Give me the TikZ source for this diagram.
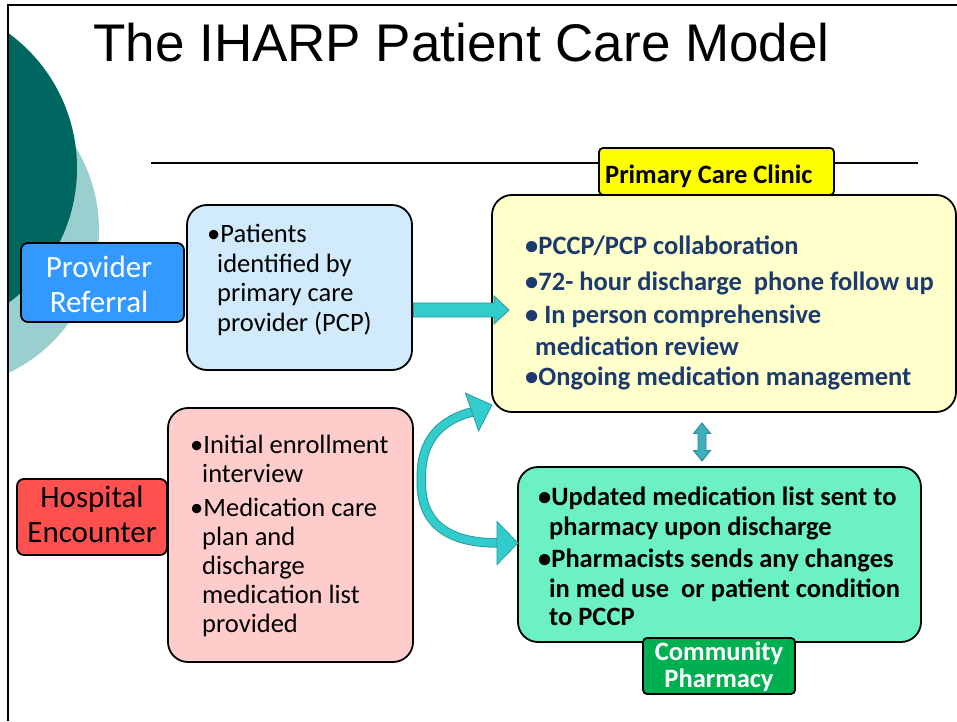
\documentclass[tikz,border=0pt]{standalone}
\usepackage{fontspec}
\setmainfont{Carlito}
\newfontfamily\titlefont{Liberation Sans}
\usetikzlibrary{calc}
\definecolor{darkteal}{HTML}{006660}
\definecolor{lightteal}{HTML}{9ACFCF}
\definecolor{pccyellow}{HTML}{FFFF00}
\definecolor{paleyellow}{HTML}{FFFFCC}
\definecolor{paleblue}{HTML}{D2EBFC}
\definecolor{refblue}{HTML}{3399FF}
\definecolor{hospred}{HTML}{FF5050}
\definecolor{palepink}{HTML}{FFCCCC}
\definecolor{mint}{HTML}{6CF0C6}
\definecolor{pharmgreen}{HTML}{00B050}
\definecolor{navytext}{HTML}{1C3A6E}
\definecolor{arrowfill}{HTML}{33CCCC}
\definecolor{arrowedge}{HTML}{2A9D9D}
\definecolor{dblfill}{HTML}{3DAFBE}
\definecolor{dbledge}{HTML}{2D8796}
\begin{document}
\begin{tikzpicture}[x=1pt,y=1pt,
  box/.style={draw=black, line width=1.8pt, rounded corners=#1, inner sep=0pt},
  box/.default=20pt,
  txt/.style={anchor=base west, inner sep=0pt, font=\fontsize{26.5}{30}\selectfont},
  btxt/.style={txt, font=\fontsize{26.5}{30}\selectfont\bfseries},
  ctxt/.style={anchor=base, inner sep=0pt, font=\fontsize{31}{35}\selectfont},
  bctxt/.style={anchor=base, inner sep=0pt, font=\fontsize{26.5}{30}\selectfont\bfseries},
  blockarrow/.style={fill=arrowfill, draw=arrowedge, line width=0.8pt, line join=miter}]
\useasboundingbox (0,0) rectangle (957,721);

% background circles
\begin{scope}
  \clip (8,0) rectangle (957,716);
  \fill[lightteal] (-59,491) circle[radius=158];
  \fill[darkteal] (-90,553) circle[radius=167];
\end{scope}

% slide frame
\draw[line width=2pt] (8,0) -- (8,716) -- (957,716);

% title and rule
\node[anchor=base, inner sep=0pt, font=\titlefont\fontsize{53}{60}\selectfont] (title) at (461.5,659) {The IHARP Patient Care Model};
\draw[line width=1.5pt] (151,558) -- (918,558);

% boxes
\node[box, fill=paleyellow, minimum width=464pt, minimum height=217pt] (yellow) at (724,417.5) {};
\node[box=4pt, fill=pccyellow, minimum width=235pt, minimum height=47pt] (pcc) at (716.5,549.5) {};
\node[box, fill=mint, minimum width=403pt, minimum height=175pt] (green) at (719.5,166.5) {};
\node[box=4pt, fill=pharmgreen, minimum width=152pt, minimum height=56pt] (pharm) at (719,55) {};
\node[box, fill=paleblue, minimum width=225pt, minimum height=165pt] (blue) at (299.5,433.5) {};
\node[box, fill=palepink, minimum width=245pt, minimum height=254pt] (pink) at (290.5,186) {};
\node[box=7pt, fill=refblue, minimum width=163pt, minimum height=79pt] (referral) at (102.5,438.5) {};
\node[box=7pt, fill=hospred, minimum width=150pt, minimum height=76pt] (hospital) at (92,204) {};

% box labels
\node[btxt] (pcclabel) at (605,537) {Primary Care Clinic};
\node[bctxt, text=white] (pharm1) at (719,61) {Community};
\node[bctxt, text=white] (pharm2) at (719,34) {Pharmacy};
\node[ctxt, text=white] (ref1) at (99,443) {Provider};
\node[ctxt, text=white] (ref2) at (99,408) {Referral};
\node[ctxt] (hosp1) at (92,214) {Hospital};
\node[ctxt] (hosp2) at (92,179) {Encounter};

% yellow box text
\begin{scope}[every node/.style={btxt, text=navytext}]
\node (y1) at (525,466) {•PCCP/PCP collaboration};
\node (y2) at (525,430) {•72- hour discharge\ \ phone follow up};
\node (y3) at (525,398) {• In person comprehensive};
\node (y4) at (535,366) {medication review};
\node (y5) at (525,336) {•Ongoing medication management};
\end{scope}

% green box text
\begin{scope}[every node/.style={btxt}]
\node (g1) at (538,216) {•Updated medication list sent to};
\node (g2) at (549,186) {pharmacy upon discharge};
\node (g3) at (538,154) {•Pharmacists sends any changes};
\node (g4) at (549,124) {in med use\ \ or patient condition};
\node (g5) at (549,96) {to PCCP};
\end{scope}

% blue box text
\begin{scope}[every node/.style={txt}]
\node (b1) at (207,478) {•Patients};
\node (b2) at (217,448) {identified by};
\node (b3) at (217,419) {primary care};
\node (b4) at (217,389) {provider (PCP)};
\end{scope}

% pink box text
\begin{scope}[every node/.style={txt}]
\node (p1) at (190,268) {•Initial enrollment};
\node (p2) at (202,239) {interview};
\node (p3) at (190,205) {•Medication care};
\node (p4) at (202,176) {plan and};
\node (p5) at (202,147) {discharge};
\node (p6) at (202,118) {medication list};
\node (p7) at (202,89) {provided};
\end{scope}

% straight block arrow: blue box -> yellow box
\coordinate (sa) at ([yshift=-22.5pt,xshift=0.5pt]blue.east);
\coordinate (st) at ([xshift=18pt]yellow.west |- sa);
\draw[blockarrow] ($(sa)+(0,7)$) -- ($(st)+(-15,7)$) -- ($(st)+(-15,14)$) -- (st)
  -- ($(st)+(-15,-14)$) -- ($(st)+(-15,-7)$) -- ($(sa)+(0,-7)$) -- cycle;

% curved arrows from the pink box: up to the clinic, down to the pharmacy
\coordinate (fork) at ([xshift=7.5pt]pink.east |- 0,241);
\coordinate (upbase) at (474,309.5);
\coordinate (uptip) at (492,316);
\coordinate (lowbase) at (498,178);
\coordinate (lowtip) at (518,178);
\draw[line width=9.5pt, arrowedge] (fork) .. controls (420,282) and (442,302) .. (upbase);
\draw[line width=9.5pt, arrowedge] (fork) .. controls (420,200) and (445,178) .. (lowbase);
\draw[line width=7.5pt, arrowfill] (fork) .. controls (420,282) and (442,302) .. (upbase);
\draw[line width=7.5pt, arrowfill] (fork) .. controls (420,200) and (445,178) .. (lowbase);
\draw[blockarrow] (465.4,327.9) -- (uptip) -- (478.6,290.1) -- cycle;
\draw[blockarrow] (497,199.5) -- (lowtip) -- (497,156.5) -- cycle;

% double arrow between clinic and pharmacy
\coordinate (dtop) at ([yshift=-10pt]yellow.south -| 702,0);
\coordinate (dbot) at ([yshift=5pt]green.north -| 702,0);
\draw[fill=dblfill, draw=dbledge, line width=0.8pt, line join=miter]
  (dtop) -- ($(dtop)+(8.5,-10.5)$) -- ($(dtop)+(4,-10.5)$) -- ($(dbot)+(4,10.5)$)
  -- ($(dbot)+(8.5,10.5)$) -- (dbot) -- ($(dbot)+(-8.5,10.5)$) -- ($(dbot)+(-4,10.5)$)
  -- ($(dtop)+(-4,-10.5)$) -- ($(dtop)+(-8.5,-10.5)$) -- cycle;
\end{tikzpicture}
\end{document}
